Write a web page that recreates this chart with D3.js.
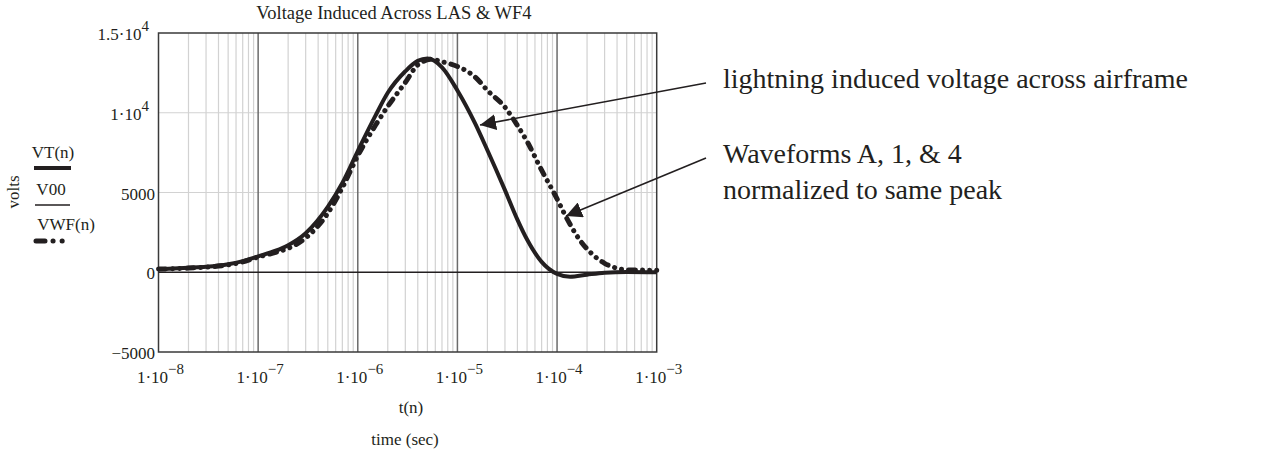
<!DOCTYPE html>
<html lang="en">
<head>
  <meta charset="UTF-8">
  <title>Voltage Induced Across LAS & WF4</title>
  <script src="https://d3js.org/d3.v7.min.js"></script>
  <style>
    body { margin: 0; background: #fff; }
    svg { display: block; font-family: "Liberation Serif", "Times New Roman", serif; fill: #231f20; }
  </style>
</head>
<body>
  <svg id="chart" width="1278" height="453"></svg>
  <script>
    // VT(n): lightning induced voltage
    const vtTime = [1e-8, 2e-8, 3e-8, 5e-8, 7e-8, 1e-7, 1.5e-7, 2e-7, 3e-7, 5e-7, 7e-7, 1e-6, 1.5e-6, 2e-6, 3e-6, 4e-6, 5e-6, 7e-6, 1e-5, 1.5e-5, 2e-5, 3e-5, 4e-5, 5e-5, 7e-5, 1e-4, 1.35e-4, 2e-4, 3e-4, 5e-4, 1e-3];
    const vtVolts = [190, 280, 340, 500, 700, 1000, 1350, 1700, 2450, 4100, 5600, 7600, 9800, 11250, 12600, 13250, 13400, 12850, 11400, 9350, 7650, 5150, 3300, 2050, 650, -100, -280, -150, -30, 20, 0];
    // VWF(n): waveforms A, 1 & 4 normalized
    const wfTime = [1e-8, 2e-8, 3e-8, 5e-8, 7e-8, 1e-7, 1.5e-7, 2e-7, 3e-7, 5e-7, 7e-7, 1e-6, 1.5e-6, 2e-6, 3e-6, 4e-6, 5.5e-6, 7e-6, 1e-5, 1.5e-5, 2e-5, 3e-5, 4e-5, 5e-5, 7e-5, 1e-4, 1.2e-4, 1.7e-4, 2.2e-4, 3e-4, 4e-4, 5.5e-4, 1e-3];
    const wfVolts = [200, 260, 320, 460, 650, 950, 1250, 1500, 2150, 3700, 5300, 7300, 9200, 10400, 11900, 13000, 13350, 13200, 12900, 12250, 11400, 10350, 9200, 8200, 6400, 4600, 3600, 2000, 1200, 560, 250, 140, 130];
    // V00: zero reference
    const v00Time = [1e-8, 1e-3];
    const v00Volts = [0, 0];

    const xTicks = [1e-8, 1e-7, 1e-6, 1e-5, 1e-4, 1e-3];
    const xTickExp = ["−8", "−7", "−6", "−5", "−4", "−3"];
    const yTicks = [-5000, 0, 5000, 10000, 15000];
    const yTickBase = ["−5000", "0", "5000", "1·10", "1.5·10"];
    const yTickExp = ["", "", "", "4", "4"];

    const svg = d3.select("#chart");
    const pLeft = 158.5, pRight = 656.7, pTop = 33, pBottom = 352;
    const x = d3.scaleLog().domain([1e-8, 1e-3]).range([pLeft, pRight]);
    const y = d3.scaleLinear().domain([-5000, 15000]).range([pBottom, pTop]);

    // minor vertical gridlines
    const minor = [];
    for (let e = -8; e < -3; e++) for (let k = 2; k <= 9; k++) minor.push(k * Math.pow(10, e));
    svg.append("g").selectAll("line").data(minor).join("line")
      .attr("x1", d => x(d)).attr("x2", d => x(d)).attr("y1", pTop).attr("y2", pBottom)
      .attr("stroke", "#d2d2d2").attr("stroke-width", 1.2);
    // horizontal gridlines
    svg.append("g").selectAll("line").data([5000, 10000]).join("line")
      .attr("x1", pLeft).attr("x2", pRight).attr("y1", d => y(d)).attr("y2", d => y(d))
      .attr("stroke", "#d2d2d2").attr("stroke-width", 1.2);
    // decade gridlines
    svg.append("g").selectAll("line").data(xTicks.slice(1, -1)).join("line")
      .attr("x1", d => x(d)).attr("x2", d => x(d)).attr("y1", pTop).attr("y2", pBottom)
      .attr("stroke", "#6b6b6b").attr("stroke-width", 1.5);

    // frame
    svg.append("rect").attr("x", pLeft).attr("y", pTop).attr("width", pRight - pLeft).attr("height", pBottom - pTop)
      .attr("fill", "none").attr("stroke", "#3a3a3a").attr("stroke-width", 1.5);

    const line = (ts, vs) => d3.line().curve(d3.curveMonotoneX)
      .x((d, i) => x(ts[i])).y(d => y(d))(vs);

    svg.append("path").attr("d", line(v00Time, v00Volts))
      .attr("fill", "none").attr("stroke", "#231f20").attr("stroke-width", 1.3);
    svg.append("path").attr("d", line(wfTime, wfVolts))
      .attr("fill", "none").attr("stroke", "#231f20").attr("stroke-width", 5)
      .attr("stroke-linecap", "round").attr("stroke-dasharray", "7,7,0.1,7,0.1,7");
    svg.append("path").attr("d", line(vtTime, vtVolts))
      .attr("fill", "none").attr("stroke", "#231f20").attr("stroke-width", 4);

    // y tick labels
    const yl = svg.append("g").attr("font-size", 17);
    yTicks.forEach((v, i) => {
      const t = yl.append("text").attr("text-anchor", "end")
        .attr("x", yTickExp[i] ? 149 : 155).attr("y", y(v) + 7);
      t.append("tspan").text(yTickBase[i]);
      if (yTickExp[i]) t.append("tspan").attr("dy", -9).attr("font-size", 15).text(yTickExp[i]);
    });

    // x tick labels
    const xl = svg.append("g").attr("font-size", 17);
    xTicks.forEach((v, i) => {
      const t = xl.append("text").attr("text-anchor", "middle").attr("x", x(v) + 2).attr("y", 383);
      t.append("tspan").text("1·10");
      t.append("tspan").attr("dy", -9).attr("font-size", 15).text(xTickExp[i]);
    });

    svg.append("text").attr("x", 394).attr("y", 19).attr("text-anchor", "middle").attr("font-size", 18.5)
      .text("Voltage Induced Across LAS & WF4");
    svg.append("text").attr("x", 411).attr("y", 413).attr("text-anchor", "middle").attr("font-size", 17).text("t(n)");
    svg.append("text").attr("x", 405).attr("y", 445).attr("text-anchor", "middle").attr("font-size", 17).text("time (sec)");
    svg.append("text").attr("transform", "translate(19,192) rotate(-90)").attr("text-anchor", "middle")
      .attr("font-size", 17).text("volts");

    // legend
    const lg = svg.append("g").attr("font-size", 17);
    lg.append("text").attr("x", 53).attr("y", 158).attr("text-anchor", "middle").text("VT(n)");
    lg.append("line").attr("x1", 34).attr("x2", 71).attr("y1", 168).attr("y2", 168)
      .attr("stroke", "#231f20").attr("stroke-width", 4);
    lg.append("text").attr("x", 51).attr("y", 195).attr("text-anchor", "middle").text("V00");
    lg.append("line").attr("x1", 35).attr("x2", 70).attr("y1", 205).attr("y2", 205)
      .attr("stroke", "#231f20").attr("stroke-width", 1.3);
    lg.append("text").attr("x", 66).attr("y", 230).attr("text-anchor", "middle").text("VWF(n)");
    lg.append("line").attr("x1", 36).attr("x2", 70).attr("y1", 241).attr("y2", 241)
      .attr("stroke", "#231f20").attr("stroke-width", 5).attr("stroke-linecap", "round")
      .attr("stroke-dasharray", "9,8,0.1,9,0.1,20");

    // annotations
    svg.append("defs").append("marker").attr("id", "arrow")
      .attr("viewBox", "0 0 10 10").attr("refX", 10).attr("refY", 5)
      .attr("markerWidth", 16).attr("markerHeight", 16).attr("markerUnits", "userSpaceOnUse")
      .attr("orient", "auto")
      .append("path").attr("d", "M0,0 L10,5 L0,10 Z").attr("fill", "#231f20");
    svg.append("line").attr("x1", 706).attr("y1", 83).attr("x2", 480).attr("y2", 125)
      .attr("stroke", "#231f20").attr("stroke-width", 1.6).attr("marker-end", "url(#arrow)");
    svg.append("line").attr("x1", 706).attr("y1", 158).attr("x2", 566).attr("y2", 216)
      .attr("stroke", "#231f20").attr("stroke-width", 1.6).attr("marker-end", "url(#arrow)");

    const ann = svg.append("g").attr("font-size", 28);
    ann.append("text").attr("x", 723).attr("y", 88).text("lightning induced voltage across airframe");
    ann.append("text").attr("x", 723).attr("y", 163).text("Waveforms A, 1, & 4");
    ann.append("text").attr("x", 723).attr("y", 199).text("normalized to same peak");
  </script>
</body>
</html>
